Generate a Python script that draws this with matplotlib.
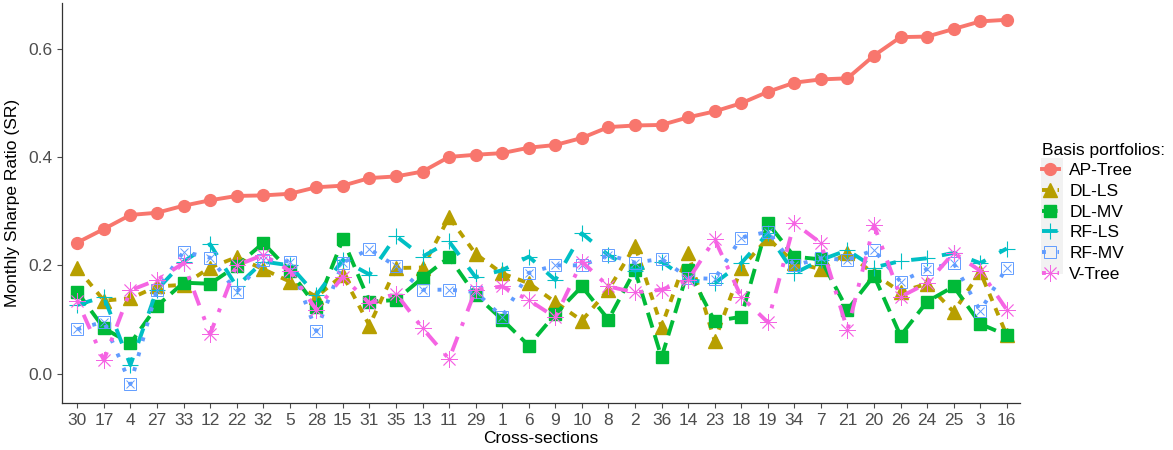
import matplotlib
matplotlib.use("Agg")
import matplotlib.pyplot as plt
from matplotlib.lines import Line2D
from matplotlib.patches import Rectangle

plt.rcParams["font.family"] = ["Liberation Sans", "DejaVu Sans"]

cross_sections = ["30", "17", "4", "27", "33", "12", "22", "32", "5", "28", "15", "31",
                  "35", "13", "11", "29", "1", "6", "9", "10", "8", "2", "36", "14",
                  "23", "18", "19", "34", "7", "21", "20", "26", "24", "25", "3", "16"]

ap_tree = [0.242, 0.267, 0.293, 0.297, 0.310, 0.320, 0.328, 0.329, 0.332, 0.344, 0.347, 0.361,
           0.364, 0.373, 0.400, 0.404, 0.407, 0.417, 0.422, 0.435, 0.455, 0.458, 0.459, 0.473,
           0.484, 0.499, 0.520, 0.537, 0.543, 0.545, 0.587, 0.621, 0.622, 0.636, 0.650, 0.653]
dl_ls = [0.195, 0.135, 0.139, 0.161, 0.164, 0.196, 0.215, 0.193, 0.170, 0.142, 0.182, 0.089,
         0.195, 0.196, 0.289, 0.221, 0.185, 0.167, 0.132, 0.098, 0.155, 0.236, 0.087, 0.223,
         0.061, 0.195, 0.250, 0.205, 0.193, 0.223, 0.184, 0.151, 0.166, 0.114, 0.188, 0.071]
dl_mv = [0.151, 0.084, 0.056, 0.125, 0.168, 0.166, 0.199, 0.241, 0.190, 0.124, 0.248, 0.133,
         0.136, 0.177, 0.215, 0.145, 0.100, 0.052, 0.110, 0.161, 0.100, 0.191, 0.030, 0.191,
         0.097, 0.105, 0.278, 0.216, 0.211, 0.118, 0.181, 0.070, 0.133, 0.161, 0.092, 0.071]
rf_ls = [0.127, 0.142, 0.016, 0.155, 0.207, 0.239, 0.161, 0.207, 0.200, 0.145, 0.210, 0.183,
         0.254, 0.216, 0.244, 0.178, 0.191, 0.216, 0.173, 0.259, 0.219, 0.190, 0.207, 0.173,
         0.167, 0.204, 0.259, 0.185, 0.210, 0.228, 0.196, 0.208, 0.213, 0.223, 0.204, 0.231]
rf_mv = [0.082, 0.096, -0.019, 0.155, 0.225, 0.214, 0.151, 0.210, 0.207, 0.079, 0.205, 0.230,
         0.198, 0.155, 0.155, 0.151, 0.105, 0.186, 0.200, 0.200, 0.219, 0.205, 0.212, 0.177,
         0.175, 0.251, 0.262, 0.200, 0.213, 0.210, 0.228, 0.170, 0.193, 0.204, 0.116, 0.196]
v_tree = [0.135, 0.025, 0.154, 0.173, 0.204, 0.073, 0.200, 0.219, 0.190, 0.118, 0.179, 0.130,
          0.148, 0.084, 0.027, 0.155, 0.161, 0.136, 0.104, 0.207, 0.161, 0.150, 0.155, 0.173,
          0.248, 0.142, 0.095, 0.278, 0.241, 0.081, 0.274, 0.142, 0.167, 0.223, 0.190, 0.118]

names = ["AP-Tree", "DL-LS", "DL-MV", "RF-LS", "RF-MV", "V-Tree"]
series = [ap_tree, dl_ls, dl_mv, rf_ls, rf_mv, v_tree]
colors = ["#F8766D", "#B79F00", "#00BA38", "#00BFC4", "#619CFF", "#F564E3"]
dashes = [None, (2, 2), (4, 2), (4, 4), (1, 3), (1, 3, 4, 3)]
markers = ["o", "^", "s", "+", "s", (8, 2, 0)]
msizes = [8.5, 10, 8.5, 12, 9, 12]
edgew = [1.0, 1.0, 1.0, 0.8, 0.7, 0.6]

fig = plt.figure(figsize=(11.73, 4.5), dpi=100)
ax = fig.add_axes([0.053, 0.1044, 0.8166, 0.889])

x = list(range(len(cross_sections)))
handles = []
for name, y, c, d, m, ms, ew in zip(names, series, colors, dashes, markers, msizes, edgew):
    kw = dict(color=c, lw=2.8, marker=m, markersize=ms, markeredgewidth=ew)
    if d is not None:
        kw["dashes"] = d
    if name == "RF-MV":
        kw["markerfacecolor"] = "none"
    ax.plot(x, y, **kw)
    if name == "RF-MV":
        # cross inside the open square
        ax.plot(x, y, ls="none", marker="x", markersize=ms * 0.7,
                markeredgewidth=ew, color=c)
    handles.append(Line2D([0], [0], **kw))

ax.set_xlim(-0.57, 35.5)
ax.set_ylim(-0.054, 0.684)
ax.set_xticks(x)
ax.set_xticklabels(cross_sections)
ax.set_yticks([0.0, 0.2, 0.4, 0.6])
ax.set_yticklabels(["0.0", "0.2", "0.4", "0.6"])
ax.tick_params(axis="both", labelsize=12.5, colors="#4D4D4D", length=3.5, width=0.8)
for side in ("top", "right"):
    ax.spines[side].set_visible(False)
for side in ("left", "bottom"):
    ax.spines[side].set_color("#333333")
    ax.spines[side].set_linewidth(0.9)

ax.set_xlabel("Cross-sections", fontsize=12.5, labelpad=2)
ax.set_ylabel("Monthly Sharpe Ratio (SR)", fontsize=12.5, labelpad=6)

# legend key background
fig.patches.append(Rectangle((1041 / 1173, 1 - 274 / 450), 22 / 1173, 116 / 450,
                             transform=fig.transFigure, facecolor="#F2F2F2",
                             edgecolor="none", zorder=0))
fig.legend(handles=handles, labels=names, title="Basis portfolios:",
           loc="upper left", bbox_to_anchor=(1026 / 1173, 1 - 127 / 450),
           frameon=False, fontsize=12.5, title_fontsize=12.5,
           handlelength=1.0, handletextpad=0.6, labelspacing=0.32,
           alignment="left")

fig.savefig("out.png", dpi=100)
